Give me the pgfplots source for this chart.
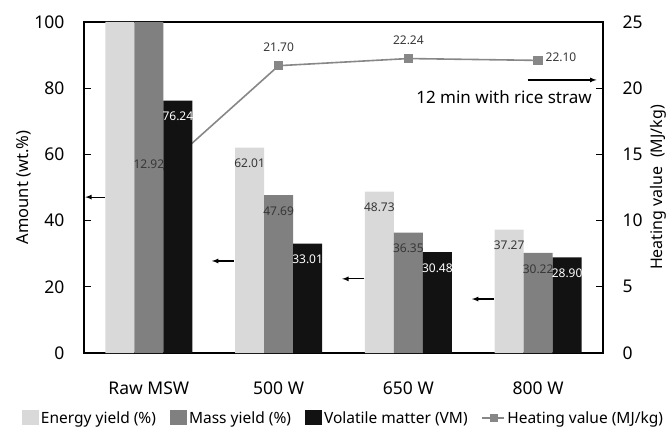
\documentclass[border=0pt]{standalone}
\usepackage{fontspec}
\setmainfont{Noto Sans}
\usepackage{pgfplots}
\pgfplotsset{compat=1.18}
\definecolor{cEnergy}{RGB}{217,217,217}
\definecolor{cMass}{RGB}{128,128,128}
\definecolor{cVM}{RGB}{18,18,18}
\definecolor{cHeat}{RGB}{135,135,135}
\definecolor{cTxt}{RGB}{55,55,55}
\begin{document}
\begin{tikzpicture}
\path[use as bounding box] (-84pt,-76pt) rectangle (585pt,353pt);
\pgfplotsset{
  common/.style={scale only axis, width=519pt, height=331pt,
    xmin=-0.5, xmax=3.5,
    /pgf/number format/assume math mode=true,
    tick align=inside, major tick length=7pt,
    axis line style={line width=1.2pt},
    every tick/.style={line width=1.2pt, black},
  }
}
% heating value axis (drawn first, behind the bars)
\begin{axis}[common,
  ymin=0, ymax=25,
  axis y line*=right, axis x line=none,
  ytick={0,5,10,15,20,25},
  yticklabel style={font=\fontsize{17.5}{19}\selectfont, xshift=16pt},
  ylabel={Heating value\ \ (MJ/kg)},
  ylabel style={at={(rel axis cs:1.106,0.5)}, anchor=center, rotate=0, font=\fontsize{16}{18}\selectfont},
]
\addplot[cHeat, line width=1.6pt, mark=square*, mark size=4pt, mark options={fill=cHeat, draw=cHeat}]
  coordinates {(0,12.92) (1,21.70) (2,22.24) (3,22.10)};
\end{axis}
% bar axis
\begin{axis}[common,
  ymin=0, ymax=100,
  ybar=0pt, bar width=29pt,
  xtick={0,1,2,3},
  xticklabels={Raw MSW,500 W,650 W,800 W},
  x tick style={draw=none},
  xticklabel style={font=\fontsize{17.5}{19}\selectfont, yshift=-18pt},
  ytick={0,20,40,60,80,100},
  ytick pos=left,
  yticklabel style={font=\fontsize{17.5}{19}\selectfont, xshift=-16pt},
  ylabel={Amount (wt.\%)},
  ylabel style={at={(rel axis cs:-0.1156,0.5)}, anchor=center, font=\fontsize{16.5}{18}\selectfont},
  point meta=explicit symbolic,
  nodes near coords,
  every node near coord/.append style={anchor=north, yshift=-8pt, font=\fontsize{12}{13}\selectfont},
  legend style={at={(rel axis cs:0.5,-0.196)}, anchor=center, draw=none, fill=none,
    legend columns=4, font=\fontsize{15.5}{17}\selectfont,
    /tikz/every even column/.append style={column sep=12pt},
    /tikz/every odd column/.append style={column sep=0pt}},
  legend cell align=left,
]
\addplot[fill=cEnergy, draw=none, every node near coord/.append style={text=cTxt},
  legend image code/.code={\fill[cEnergy] (0pt,-7pt) rectangle (17pt,8pt);}]
  coordinates {(0,100)[] (1,62.01)[62.01] (2,48.73)[48.73] (3,37.27)[37.27]};
\addplot[fill=cMass, draw=none, every node near coord/.append style={text=cTxt},
  legend image code/.code={\fill[cMass] (0pt,-7pt) rectangle (17pt,8pt);}]
  coordinates {(0,100)[] (1,47.69)[47.69] (2,36.35)[36.35] (3,30.22)[30.22]};
\addplot[fill=cVM, draw=none, every node near coord/.append style={text=white},
  legend image code/.code={\fill[cVM] (0pt,-7pt) rectangle (17pt,8pt);}]
  coordinates {(0,76.24)[76.24] (1,33.01)[33.01] (2,30.48)[30.48] (3,28.90)[28.90]};
\addlegendimage{legend image code/.code={\draw[cHeat, line width=1.6pt] (0pt,0pt) -- (22pt,0pt); \fill[cHeat] (7.5pt,-3.5pt) rectangle (14.5pt,3.5pt);}}
\legend{Energy yield (\%), Mass yield (\%), Volatile matter (VM), Heating value (MJ/kg)}
% heating value labels (right axis value x 4)
\node[anchor=south, yshift=10pt, text=cTxt, font=\fontsize{12}{13}\selectfont] at (axis cs:0,51.68) {12.92};
\node[anchor=south, yshift=10pt, text=cTxt, font=\fontsize{12}{13}\selectfont] at (axis cs:1,86.80) {21.70};
\node[anchor=south, yshift=10pt, text=cTxt, font=\fontsize{12}{13}\selectfont] at (axis cs:2,88.96) {22.24};
\node[anchor=west, xshift=4pt, yshift=3pt, text=cTxt, font=\fontsize{12}{13}\selectfont] at (axis cs:3,88.40) {22.10};
% annotation arrows
\draw[-latex, line width=1.2pt] (axis cs:-0.34,47.1) -- (axis cs:-0.49,47.1);
\draw[-latex, line width=1.2pt] (axis cs:0.656,27.8) -- (axis cs:0.486,27.8);
\draw[-latex, line width=1.2pt] (axis cs:1.66,22.4) -- (axis cs:1.49,22.4);
\draw[-latex, line width=1.2pt] (axis cs:2.66,16.3) -- (axis cs:2.49,16.3);
\draw[-latex, line width=1.2pt] (axis cs:2.92,82.5) -- (axis cs:3.45,82.5);
\node[anchor=east, font=\fontsize{17}{19}\selectfont] at (axis cs:3.44,77.4) {12 min with rice straw};
\end{axis}
\end{tikzpicture}
\end{document}
